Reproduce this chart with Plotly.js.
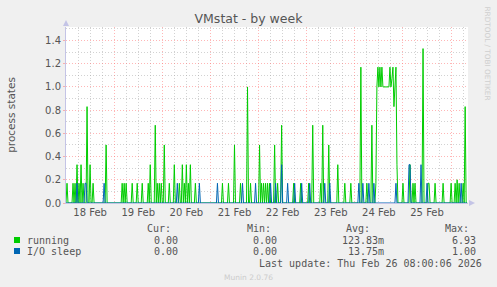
<!DOCTYPE html>
<html>
<head>
<meta charset="utf-8">
<script src="https://cdn.plot.ly/plotly-3.0.1.min.js"></script>
<style>
  html, body { margin: 0; padding: 0; background: #f0f0f0; }
  #chart { width: 497px; height: 287px; }
</style>
</head>
<body>
<div id="chart"></div>
<script>
// ---------------- data ----------------
// half-hour samples counted from 18 Feb 2026 00:00; zero wherever not listed
const sampleStart = '2026-02-18T00:00:00Z';
const sampleMinutes = 30;
const sampleCount = 401;

const runningSlots = [1, 7, 9, 11, 13, 15, 17, 21, 24, 27, 40, 56, 58, 60, 66, 71, 76, 82, 84, 89,
  91, 93, 95, 98, 103, 108, 113, 116, 118, 120, 122, 124, 129, 156, 162, 168, 174, 181, 184, 193,
  195, 197, 199, 201, 203, 208, 211, 215, 227, 234, 242, 246, 254, 256, 262, 271, 278, 284, 294, 300,
  305, 309, 310, 311, 312, 313, 314, 315, 316, 317, 318, 319, 320, 321, 322, 323, 324, 325, 326, 327,
  328, 329, 330, 336, 343, 346, 348, 356, 361, 362, 368, 376, 384, 388, 390, 392, 396, 398];
const runningValues = [0.17, 0.17, 0.17, 0.33, 0.17, 0.33, 0.17, 0.83, 0.33, 0.17, 0.5, 0.17, 0.17, 0.17, 0.17, 0.17, 0.17, 0.17, 0.33, 0.67,
  0.17, 0.17, 0.17, 0.5, 0.17, 0.33, 0.17, 0.33, 0.17, 0.33, 0.17, 0.33, 0.17, 0.17, 0.17, 0.5, 0.17, 1.0, 0.17, 0.5,
  0.17, 0.17, 0.17, 0.17, 0.17, 0.5, 0.17, 0.67, 0.17, 0.17, 0.17, 0.67, 0.17, 0.67, 0.5, 0.33, 0.17, 0.17, 1.17, 0.17,
  0.67, 0.17, 1.0, 1.17, 1.0, 1.17, 1.0, 1.17, 1.0, 1.0, 1.0, 1.0, 1.0, 1.0, 1.0, 1.17, 1.0, 1.07, 1.17, 0.83,
  1.0, 1.17, 0.33, 0.17, 0.33, 0.17, 0.17, 1.33, 0.17, 0.17, 0.17, 0.17, 0.17, 0.17, 0.2, 0.17, 0.17, 0.83];

const ioSlots = [11, 19, 20, 38, 111, 133, 151, 176, 189, 204, 209, 215, 221, 228, 235, 243, 258, 263,
  292, 296, 302, 307, 329, 342, 343, 354, 360, 394];
const ioValues = [0.17, 0.17, 0.17, 0.17, 0.17, 0.17, 0.17, 0.17, 0.17, 0.17, 0.17, 0.33, 0.17, 0.17, 0.17, 0.17, 0.17, 0.17,
  0.17, 0.17, 0.17, 0.17, 0.17, 0.33, 0.33, 0.33, 0.17, 0.17];

const seriesNames = ['running', 'I/O sleep'];
const seriesColors = ['#00cc00', '#0066b3'];
const statHeaders = ['Cur:', 'Min:', 'Avg:', 'Max:'];
const curValues = ['0.00', '0.00'];
const minValues = ['0.00', '0.00'];
const avgValues = ['123.83m', '13.75m'];
const maxValues = ['6.93', '1.00'];
const lastUpdate = 'Last update: Thu Feb 26 08:00:06 2026';
const footer = 'Munin 2.0.76';
const sideText = 'RRDTOOL / TOBI OETIKER';
const titleText = 'VMstat - by week';
const yTitle = 'process states';
const xRange = ['2026-02-18 00:00', '2026-02-26 08:25'];
const yRange = [0, 1.516];

// ---------------- build series ----------------
function slotTime(i) {
  const d = new Date(Date.parse(sampleStart) + i * sampleMinutes * 60000);
  return d.toISOString().slice(0, 16).replace('T', ' ');
}
function fullSeries(slots, vals) {
  const y = new Array(sampleCount).fill(0);
  slots.forEach((s, k) => { y[s] = vals[k]; });
  return y;
}
const times = [];
for (let i = 0; i < sampleCount; i++) times.push(slotTime(i));

const traces = [
  { x: times, y: fullSeries(runningSlots, runningValues), type: 'scatter', mode: 'lines',
    name: seriesNames[0], line: { color: seriesColors[0], width: 1 }, hoverinfo: 'skip' },
  { x: times, y: fullSeries(ioSlots, ioValues), type: 'scatter', mode: 'lines',
    name: seriesNames[1], line: { color: seriesColors[1], width: 1 }, hoverinfo: 'skip' }
];

// ---------------- layout helpers (pixel -> paper) ----------------
const W = 497, H = 287, L = 66, R = 468, T = 27, B = 203;
const px = v => (v - L) / (R - L);
const py = v => (B - v) / (B - T);

const textCol = '#555555';
const mono = 'DejaVu Sans Mono, monospace';
const sans = 'DejaVu Sans, sans-serif';
const majorGrid = 'rgba(255,110,110,0.5)';
const minorGrid = 'rgba(165,165,165,0.5)';
const axisCol = '#c4c4e6';

const ann = [];
function addText(text, x, y, anchor, opts) {
  ann.push(Object.assign({ text: text, xref: 'paper', yref: 'paper', x: px(x), y: py(y),
    xanchor: anchor, yanchor: 'middle', showarrow: false, borderpad: 0,
    font: { family: mono, size: 10, color: textCol } }, opts || {}));
}
const headerRight = [172, 272, 371, 470];
const valueRight = [179, 278, 385, 477];
statHeaders.forEach((h, k) => addText(h, headerRight[k], 228, 'right'));
const rowsY = [240, 251];
const cols = [curValues, minValues, avgValues, maxValues];
seriesNames.forEach((n, r) => {
  addText(n, 26, rowsY[r], 'left');
  cols.forEach((c, k) => addText(c[r], valueRight[k], rowsY[r], 'right'));
});
addText(lastUpdate, 483, 263, 'right');
addText(footer, 248, 277, 'center', { font: { family: sans, size: 7.5, color: '#cccccc' } });
ann.push({ text: sideText, xref: 'paper', yref: 'paper', x: px(487), y: py(53.5), textangle: 90,
  xanchor: 'center', yanchor: 'middle', showarrow: false, borderpad: 0,
  font: { family: sans, size: 7.3, color: '#cfcfcf' } });

const shapes = [];
seriesColors.forEach((c, r) => {
  shapes.push({ type: 'rect', xref: 'paper', yref: 'paper', x0: px(14), x1: px(20),
    y0: py(rowsY[r] - 3), y1: py(rowsY[r] + 3), fillcolor: c, line: { width: 0 } });
});
// axis arrow heads
shapes.push({ type: 'path', xref: 'paper', yref: 'paper',
  path: `M ${px(63)} ${py(26)} L ${px(69)} ${py(26)} L ${px(66)} ${py(20)} Z`,
  fillcolor: axisCol, line: { width: 0 } });
shapes.push({ type: 'path', xref: 'paper', yref: 'paper',
  path: `M ${px(469)} ${py(200)} L ${px(469)} ${py(206)} L ${px(475)} ${py(203)} Z`,
  fillcolor: axisCol, line: { width: 0 } });

const layout = {
  width: W, height: H,
  margin: { l: L, r: W - R, t: T, b: H - B, pad: 0 },
  paper_bgcolor: '#f0f0f0', plot_bgcolor: '#ffffff',
  showlegend: false,
  title: { text: titleText, x: 0.5, xanchor: 'center', y: 1 - 19 / H, yref: 'container',
    yanchor: 'middle', font: { family: sans, size: 12.5, color: textCol } },
  xaxis: {
    type: 'date', range: xRange, fixedrange: true,
    tick0: '2026-02-18', dtick: 86400000, ticklabelmode: 'period', tickformat: '%d %b',
    ticks: '', showgrid: true, gridcolor: majorGrid, griddash: '1px,2px', gridwidth: 1,
    minor: { dtick: 6 * 3600000, tick0: '2026-02-18', showgrid: true, gridcolor: minorGrid,
      griddash: '1px,2px', gridwidth: 1 },
    showline: true, linecolor: axisCol, linewidth: 1, zeroline: false,
    tickfont: { family: sans, size: 10, color: textCol }
  },
  yaxis: {
    range: yRange, fixedrange: true, dtick: 0.2, tick0: 0, tickformat: '.1f',
    ticks: 'outside', ticklen: 2, tickcolor: majorGrid,
    showgrid: true, gridcolor: majorGrid, griddash: '1px,2px', gridwidth: 1,
    minor: { dtick: 0.1, showgrid: true, gridcolor: minorGrid, griddash: '1px,2px', gridwidth: 1 },
    showline: true, linecolor: axisCol, linewidth: 1, zeroline: false,
    tickfont: { family: sans, size: 10, color: textCol },
    title: { text: yTitle, standoff: 27, font: { family: sans, size: 10.5, color: textCol } },
    automargin: false
  },
  annotations: ann,
  shapes: shapes
};

Plotly.newPlot('chart', traces, layout, { staticPlot: true, displayModeBar: false });
</script>
</body>
</html>
